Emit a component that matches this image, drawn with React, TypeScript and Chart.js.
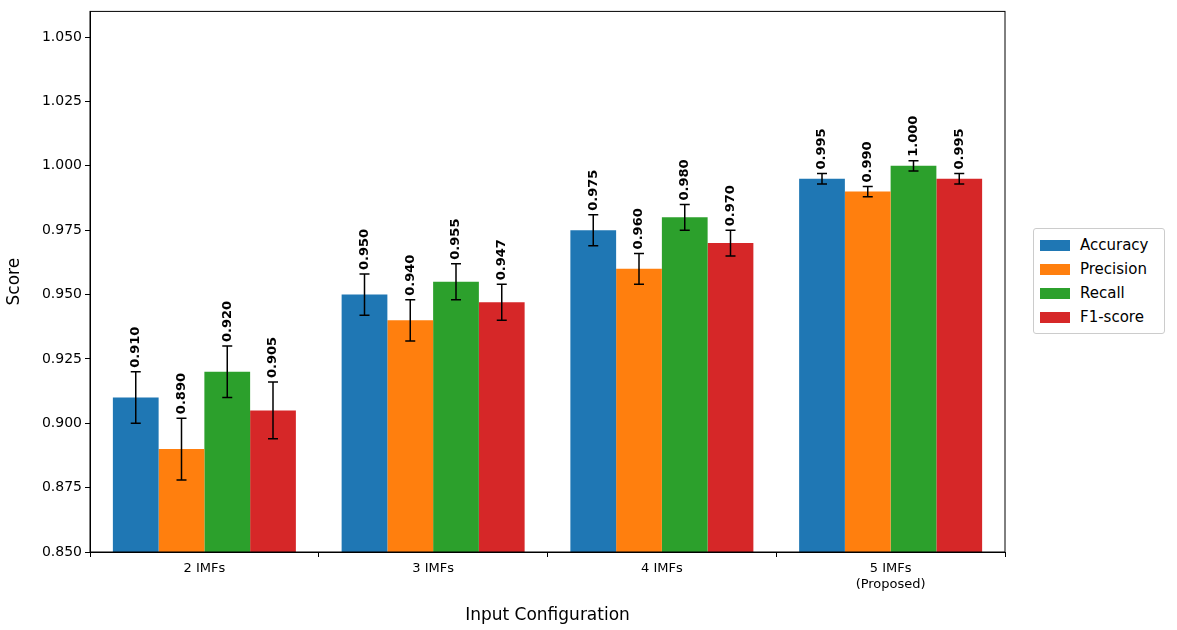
import React, { useEffect, useRef } from "react";
import { Chart, registerables } from "chart.js";
Chart.register(...registerables);

const categories: (string | string[])[] = ["2 IMFs", "3 IMFs", "4 IMFs", ["5 IMFs", "(Proposed)"]];
const seriesNames = ["Accuracy", "Precision", "Recall", "F1-score"];
const colors = ["#1f77b4", "#ff7f0e", "#2ca02c", "#d62728"];
const accuracy = [0.91, 0.95, 0.975, 0.995];
const precision = [0.89, 0.94, 0.96, 0.99];
const recall = [0.92, 0.955, 0.98, 1.0];
const f1 = [0.905, 0.947, 0.97, 0.995];
const accErr = [0.01, 0.008, 0.006, 0.002];
const precErr = [0.012, 0.008, 0.006, 0.002];
const recErr = [0.01, 0.007, 0.005, 0.002];
const f1Err = [0.011, 0.007, 0.005, 0.002];
const yTicks = [0.85, 0.875, 0.9, 0.925, 0.95, 0.975, 1.0, 1.025, 1.05];

const values = [accuracy, precision, recall, f1];
const errors = [accErr, precErr, recErr, f1Err];
const FONT = "'DejaVu Sans', sans-serif";

export default function App() {
  const ref = useRef<HTMLCanvasElement>(null);
  useEffect(() => {
    document.body.style.margin = "0";
    const plugin = {
      id: "extras",
      afterDatasetsDraw(chart: any) {
        const ctx = chart.ctx;
        const y = chart.scales.y;
        chart.data.datasets.forEach((ds: any, di: number) => {
          const meta = chart.getDatasetMeta(di);
          meta.data.forEach((bar: any, i: number) => {
            const v = values[di][i], e = errors[di][i];
            const yt = y.getPixelForValue(v + e), yb = y.getPixelForValue(v - e);
            const x = bar.x;
            ctx.save();
            ctx.strokeStyle = "#000";
            ctx.lineWidth = 1.5;
            ctx.beginPath();
            ctx.moveTo(x, yt); ctx.lineTo(x, yb);
            ctx.moveTo(x - 5, yt); ctx.lineTo(x + 5, yt);
            ctx.moveTo(x - 5, yb); ctx.lineTo(x + 5, yb);
            ctx.stroke();
            ctx.translate(x, yt - 4);
            ctx.rotate(-Math.PI / 2);
            ctx.fillStyle = "#000";
            ctx.font = `bold 13px ${FONT}`;
            ctx.textAlign = "left";
            ctx.textBaseline = "middle";
            ctx.fillText(v.toFixed(3), 0, 0);
            ctx.restore();
          });
        });
        const a = chart.chartArea;
        ctx.save();
        ctx.strokeStyle = "#000";
        ctx.lineWidth = 1;
        ctx.strokeRect(a.left, a.top, a.right - a.left, a.bottom - a.top);
        ctx.restore();
      },
    };
    const chart = new Chart(ref.current!, {
      type: "bar",
      data: {
        labels: categories,
        datasets: seriesNames.map((n, i) => ({
          label: n,
          data: values[i],
          backgroundColor: colors[i],
          categoryPercentage: 0.8,
          barPercentage: 1.0,
        })),
      },
      options: {
        animation: false,
        responsive: false,
        layout: { padding: { top: 10, right: 172, left: 0, bottom: 0 } },
        plugins: { legend: { display: false }, tooltip: { enabled: false } },
        scales: {
          x: {
            grid: { drawOnChartArea: false, tickLength: 5, color: "#000" },
            border: { color: "#000" },
            ticks: { color: "#000", font: { family: FONT, size: 13 }, padding: 4 },
            title: { display: true, text: "Input Configuration", color: "#000", font: { family: FONT, size: 17 }, padding: { top: 6 } },
            afterFit(s: any) { s.height = 78; },
          },
          y: {
            min: 0.85,
            max: 1.06,
            grid: { drawOnChartArea: false, tickLength: 5, color: "#000" },
            border: { color: "#000" },
            afterBuildTicks(s: any) { s.ticks = yTicks.map((v) => ({ value: v })); },
            ticks: { color: "#000", font: { family: FONT, size: 14 }, callback: (v: any) => Number(v).toFixed(3) },
            title: { display: true, text: "Score", color: "#000", font: { family: FONT, size: 17 } },
            afterFit(s: any) { s.width = 90; },
          },
        },
      },
      plugins: [plugin],
    });
    return () => chart.destroy();
  }, []);
  return (
    <div style={{ position: "relative", width: 1177, height: 630, background: "#fff" }}>
      <canvas ref={ref} width={1177} height={630} />
      <div style={{ position: "absolute", left: 1033, top: 228, width: 132, border: "1px solid #ccc", borderRadius: 3, padding: "4px 6px", boxSizing: "border-box", fontFamily: FONT, fontSize: 15, background: "#fff" }}>
        {seriesNames.map((n, i) => (
          <div key={n} style={{ display: "flex", alignItems: "center", height: 24 }}>
            <span style={{ display: "inline-block", width: 30, height: 11, background: colors[i], marginRight: 10 }} />
            {n}
          </div>
        ))}
      </div>
    </div>
  );
}
